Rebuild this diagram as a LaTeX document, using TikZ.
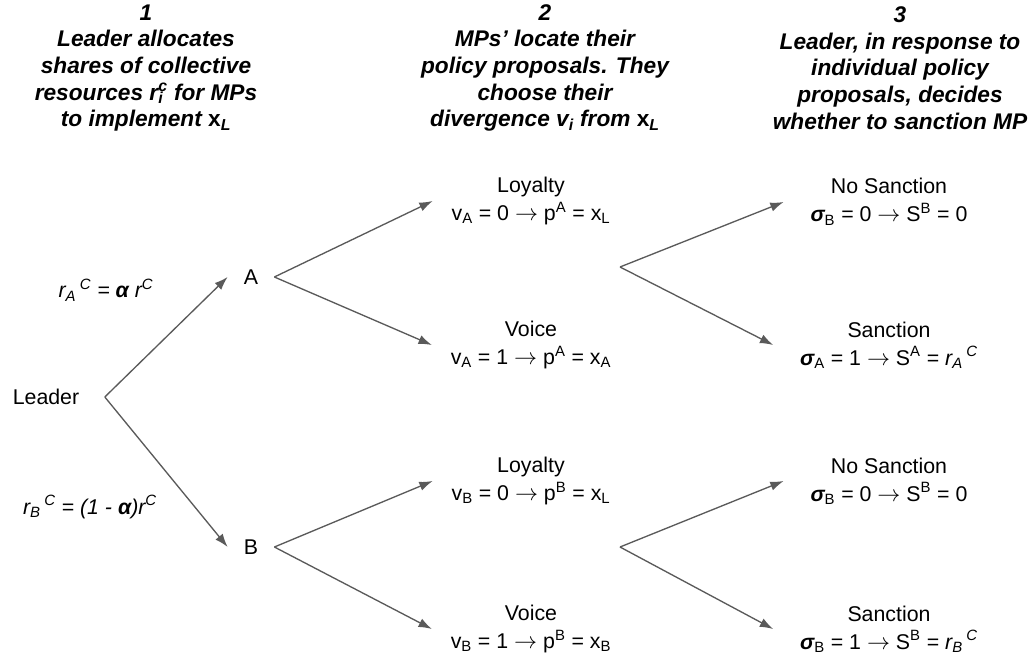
\documentclass[tikz,border=0pt]{standalone}
\usepackage{fontspec}
\setmainfont{Liberation Sans}
\usetikzlibrary{arrows.meta}

\definecolor{branchgray}{HTML}{5A5A5A}
\newcommand{\stackidx}[2]{\rlap{\textsubscript{#1}}\textsuperscript{#2}}
\newcommand{\sig}{{\bfseries\itshape σ}}

\tikzset{
  stage/.style={align=center, font=\fontsize{17}{20}\selectfont\bfseries\itshape},
  mover/.style={font=\fontsize{16}{19}\selectfont, inner xsep=12pt},
  outcome/.style={align=center, font=\fontsize{16}{21}\selectfont, inner xsep=14pt},
  verdict/.style={align=center, font=\fontsize{16}{21}\selectfont, inner xsep=20pt},
  share/.style={font=\fontsize{16}{19}\selectfont\itshape},
  branch/.style={draw=branchgray, line width=1pt, -{Latex[length=10pt,width=7pt]}},
}

\begin{document}
\begin{tikzpicture}[x=0.75pt, y=-0.75pt]
		\useasboundingbox (0,0) rectangle (1030,666);

		% Stage headings
		\node[stage] (stage1) at (146,68) {1\\Leader allocates\\shares of collective\\resources r\stackidx{i}{c} for MPs\\to implement {\upshape x}\textsubscript{L}};
		\node[stage] (stage2) at (545,68) {2\\MPs’ locate their\\policy proposals. They\\choose their\\divergence v\textsubscript{i} from {\upshape x}\textsubscript{L}};
		\node[stage] (stage3) at (900,68) {3\\Leader, in response to\\individual policy\\proposals, decides\\whether to sanction MP};

		% Leader and the two MPs
		\node[mover, inner xsep=19pt] (lead) at (46,397) {Leader};
		\node[mover] (mpA) at (251,277) {A};
		\node[mover] (mpB) at (251,547) {B};
		\node[share] (shareA) at (106,290) {r\textsubscript{A}\,\textsuperscript{C} = {\bfseries α} r\textsuperscript{C}};
		\node[share] (shareB) at (90,507) {r\textsubscript{B}\,\textsuperscript{C} = (1 - {\bfseries α})r\textsuperscript{C}};
		\draw[branch] (lead.east) -- (mpA.west);
		\draw[branch] (lead.east) -- (mpB.west);

		% MP choices
		\node[outcome] (loyA) at (531,201) {Loyalty\\v\textsubscript{A} = 0 $\rightarrow$ p\textsuperscript{A} = x\textsubscript{L}};
		\node[outcome] (voiA) at (531,345) {Voice\\v\textsubscript{A} = 1 $\rightarrow$ p\textsuperscript{A} = x\textsubscript{A}};
		\node[outcome] (loyB) at (531,481) {Loyalty\\v\textsubscript{B} = 0 $\rightarrow$ p\textsuperscript{B} = x\textsubscript{L}};
		\node[outcome] (voiB) at (531,629) {Voice\\v\textsubscript{B} = 1 $\rightarrow$ p\textsuperscript{B} = x\textsubscript{B}};
		\draw[branch] (mpA.east) -- (loyA.west);
		\draw[branch] (mpA.east) -- (voiA.west);
		\draw[branch] (mpB.east) -- (loyB.west);
		\draw[branch] (mpB.east) -- (voiB.west);

		% Leader's response
		\coordinate (forkA) at (620,267);
		\coordinate (forkB) at (620,547);
		\node[verdict] (nosA) at (889,202) {No Sanction\\\sig\textsubscript{B} = 0 $\rightarrow$ S\textsuperscript{B} = 0};
		\node[verdict] (sanA) at (889,345) {Sanction\\\sig\textsubscript{A} = 1 $\rightarrow$ S\textsuperscript{A} = \textit{r\textsubscript{A}\,\textsuperscript{C}}};
		\node[verdict] (nosB) at (889,481) {No Sanction\\\sig\textsubscript{B} = 0 $\rightarrow$ S\textsuperscript{B} = 0};
		\node[verdict] (sanB) at (889,629) {Sanction\\\sig\textsubscript{B} = 1 $\rightarrow$ S\textsuperscript{B} = \textit{r\textsubscript{B}\,\textsuperscript{C}}};
		\draw[branch] (forkA) -- (nosA.west);
		\draw[branch] (forkA) -- (sanA.west);
		\draw[branch] (forkB) -- (nosB.west);
		\draw[branch] (forkB) -- (sanB.west);
	\end{tikzpicture}
\end{document}
